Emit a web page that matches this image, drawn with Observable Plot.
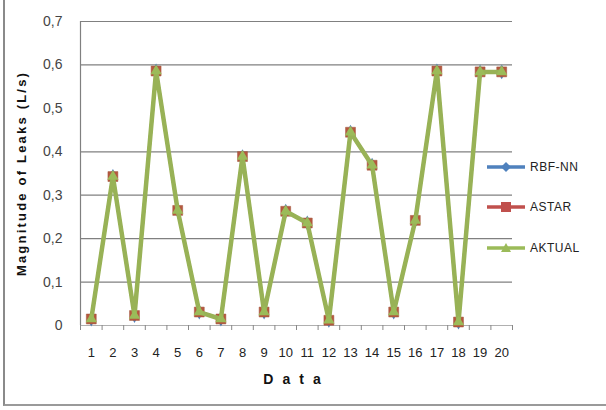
<!DOCTYPE html>
<html>
<head>
<meta charset="utf-8">
<script src="https://cdn.jsdelivr.net/npm/d3@7"></script>
<script src="https://cdn.jsdelivr.net/npm/@observablehq/plot@0.6"></script>
<style>
  html, body { margin: 0; padding: 0; background: #fff; }
  #wrap { position: relative; width: 606px; height: 410px; font-family: "Liberation Sans", Arial, sans-serif; }
  #frame { position: absolute; left: 3px; top: -2px; width: 640px; height: 408px; border-left: 2px solid #8a8a8a; border-bottom: 2px solid #9a9a9a; box-sizing: border-box; pointer-events: none; }
  #legend { position: absolute; left: 487px; top: 0; }
  .item { position: absolute; left: 0; display: flex; align-items: center; white-space: nowrap; font-size: 12px; color: #222; letter-spacing: 0.5px; }
  .item svg { margin-right: 5px; }
</style>
</head>
<body>
<div id="wrap">
  <div id="chart"></div>
  <div id="legend"></div>
  <div id="frame"></div>
</div>
<script>
// ---- data ----
const categories = [1,2,3,4,5,6,7,8,9,10,11,12,13,14,15,16,17,18,19,20];
const rbfnn  = [0.015,0.343,0.023,0.586,0.265,0.031,0.015,0.389,0.031,0.263,0.236,0.012,0.445,0.369,0.031,0.242,0.586,0.008,0.584,0.584];
const astar  = [0.015,0.343,0.023,0.586,0.265,0.031,0.015,0.389,0.031,0.263,0.236,0.012,0.445,0.369,0.031,0.242,0.586,0.008,0.584,0.584];
const aktual = [0.015,0.343,0.023,0.586,0.265,0.031,0.015,0.389,0.031,0.263,0.236,0.012,0.445,0.369,0.031,0.242,0.586,0.008,0.584,0.584];
const seriesNames = ["RBF-NN", "ASTAR", "AKTUAL"];
const yTicks = [0, 0.1, 0.2, 0.3, 0.4, 0.5, 0.6, 0.7];
const gridValues = [0.1, 0.2, 0.3, 0.4, 0.6, 0.7];
const xLabel = "Data";
const yLabel = "Magnitude of Leaks (L/s)";

// ---- build ----
const colors = {"RBF-NN": "#4f81bd", "ASTAR": "#c0504d", "AKTUAL": "#9bbb59"};
const rows = s => categories.map((c, i) => ({x: c, y: s[i]}));
const dRbf = rows(rbfnn), dAstar = rows(astar), dAktual = rows(aktual);
const boundaries = [categories[0] - 0.5, ...categories.map(c => c + 0.5)];
const fmt = v => v === 0 ? "0" : d3.format(".1f")(v).replace(".", ",");

const chart = Plot.plot({
  width: 606,
  height: 410,
  marginLeft: 80,
  marginRight: 94,
  marginTop: 21,
  marginBottom: 85,
  style: {fontFamily: "Liberation Sans, Arial, sans-serif", background: "transparent", color: "#222"},
  x: {type: "linear", domain: [categories[0] - 0.5, categories[categories.length - 1] + 0.5]},
  y: {domain: [0, 0.7]},
  marks: [
    Plot.ruleY(gridValues, {stroke: "#808080", strokeWidth: 1.2}),
    Plot.ruleY([0], {stroke: "#b0b0b0", strokeWidth: 1}),
    Plot.axisX({ticks: boundaries, tickSize: 5, tickFormat: () => "", stroke: "#888", label: null}),
    Plot.axisX({ticks: categories, tickSize: 0, tickPadding: 22, tickFormat: d => String(d), fontSize: 13, fill: "#222", label: null}),
    Plot.axisY({ticks: yTicks, tickSize: 0, tickPadding: 18, tickFormat: fmt, fontSize: 14, fill: "#444", label: null}),
    Plot.ruleX([categories[0] - 0.5], {stroke: "#808080", strokeWidth: 1.2}),
    Plot.line(dRbf, {x: "x", y: "y", stroke: colors["RBF-NN"], strokeWidth: 3}),
    Plot.dot(dRbf, {x: "x", y: "y", symbol: "diamond", r: 4.5, fill: colors["RBF-NN"], stroke: "none"}),
    Plot.line(dAstar, {x: "x", y: "y", stroke: colors["ASTAR"], strokeWidth: 3}),
    Plot.dot(dAstar, {x: "x", y: "y", symbol: "square", r: 5.6, fill: "#b5583f", stroke: "#a0553a", strokeWidth: 0.5}),
    Plot.line(dAktual, {x: "x", y: "y", stroke: "#98b256", strokeWidth: 4.5}),
    Plot.dot(dAktual, {x: "x", y: "y", symbol: "triangle", r: 4.2, fill: colors["AKTUAL"], stroke: "none"}),
    Plot.text([xLabel], {frameAnchor: "bottom", dy: 58, fontWeight: "bold", fontSize: 14, fill: "#111", text: d => d}),
    Plot.text([yLabel], {frameAnchor: "left", dx: -59, textAnchor: "middle", rotate: -90, fontWeight: "bold", fontSize: 13, fill: "#111", text: d => d})
  ]
});
chart.querySelectorAll("text").forEach(t => {
  if (t.textContent === yLabel) t.setAttribute("letter-spacing", "2.2");
  if (t.textContent === xLabel) t.setAttribute("letter-spacing", "9");
});
document.getElementById("chart").appendChild(chart);

// ---- legend ----
const legend = document.getElementById("legend");
const legendY = {"RBF-NN": 167, "ASTAR": 207, "AKTUAL": 248};
const symbolPath = {
  "RBF-NN": '<path d="M19 1 L24 6 L19 11 L14 6 Z"/>',
  "ASTAR": '<rect x="14" y="1" width="10" height="10"/>',
  "AKTUAL": '<path d="M19 1 L24 10 L14 10 Z"/>'
};
seriesNames.forEach(name => {
  const div = document.createElement("div");
  div.className = "item";
  div.style.top = (legendY[name] - 7) + "px";
  div.innerHTML = `<svg width="38" height="12"><line x1="0" y1="6" x2="38" y2="6" stroke="${colors[name]}" stroke-width="3.5"/><g fill="${colors[name]}">${symbolPath[name]}</g></svg><span>${name}</span>`;
  legend.appendChild(div);
});
</script>
</body>
</html>
